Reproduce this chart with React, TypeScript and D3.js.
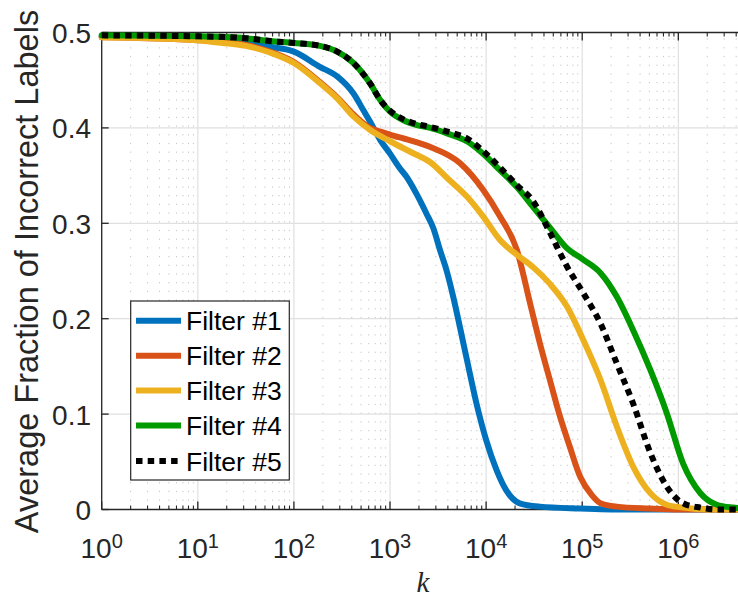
import React from "react";
import * as d3 from "d3";

// ---- data (log10 k positions and average fraction values) ----
const seriesNames = ["Filter #1", "Filter #2", "Filter #3", "Filter #4", "Filter #5"];
const seriesColors = ["#0072BD", "#D95319", "#EDB120", "#009900", "#000000"];

const f1LogK = [0, 1, 1.5, 1.75, 2, 2.27, 2.45, 2.62, 2.72, 2.79, 2.9, 3, 3.1, 3.17, 3.28, 3.38, 3.45, 3.52, 3.59, 3.66, 3.73, 3.8, 3.9, 4, 4.11, 4.21, 4.35, 4.56, 4.98, 5.3, 6.7];
const f1Y = [0.496, 0.494, 0.49, 0.485, 0.48, 0.464, 0.454, 0.436, 0.419, 0.407, 0.387, 0.373, 0.358, 0.349, 0.33, 0.31, 0.295, 0.272, 0.25, 0.222, 0.19, 0.157, 0.111, 0.073, 0.041, 0.02, 0.0065, 0.003, 0.001, 0, 0];

const f2LogK = [0, 1, 1.16, 1.5, 1.75, 2, 2.27, 2.45, 2.62, 2.79, 2.9, 3, 3.1, 3.21, 3.42, 3.73, 3.97, 4.14, 4.32, 4.46, 4.56, 4.66, 4.77, 4.87, 4.98, 5.1, 5.19, 5.36, 5.7, 6, 6.7];
const f2Y = [0.495, 0.492, 0.491, 0.487, 0.48, 0.469, 0.448, 0.432, 0.414, 0.4, 0.396, 0.393, 0.39, 0.387, 0.38, 0.363, 0.335, 0.308, 0.272, 0.215, 0.174, 0.137, 0.097, 0.066, 0.034, 0.015, 0.0065, 0.003, 0.001, 0, 0];

const f3LogK = [0, 1, 1.16, 1.5, 1.75, 2, 2.27, 2.45, 2.62, 2.79, 3, 3.21, 3.42, 3.6, 3.8, 3.97, 4.14, 4.32, 4.49, 4.66, 4.84, 5.01, 5.19, 5.36, 5.53, 5.71, 5.88, 6.05, 6.3, 6.7];
const f3Y = [0.495, 0.492, 0.49, 0.486, 0.479, 0.468, 0.447, 0.431, 0.412, 0.398, 0.386, 0.375, 0.364, 0.347, 0.328, 0.307, 0.283, 0.267, 0.254, 0.237, 0.213, 0.178, 0.136, 0.087, 0.045, 0.017, 0.005, 0.002, 0, 0];

const f4LogK = [0, 1, 1.5, 1.75, 2, 2.27, 2.45, 2.62, 2.79, 2.9, 3, 3.14, 3.28, 3.42, 3.6, 3.8, 4, 4.14, 4.32, 4.49, 4.66, 4.84, 5.01, 5.19, 5.36, 5.53, 5.71, 5.88, 6.05, 6.23, 6.4, 6.57, 6.7];
const f4Y = [0.497, 0.496, 0.494, 0.491, 0.489, 0.486, 0.48, 0.468, 0.447, 0.429, 0.417, 0.408, 0.403, 0.4, 0.394, 0.386, 0.37, 0.356, 0.338, 0.317, 0.296, 0.274, 0.262, 0.248, 0.223, 0.188, 0.146, 0.101, 0.048, 0.017, 0.005, 0.002, 0.001];

const f5LogK = [0, 1, 1.5, 1.75, 2, 2.27, 2.45, 2.62, 2.79, 2.9, 3, 3.14, 3.28, 3.42, 3.6, 3.8, 4, 4.14, 4.32, 4.49, 4.66, 4.84, 5.01, 5.19, 5.36, 5.53, 5.71, 5.88, 6.05, 6.23, 6.4, 6.7];
const f5Y = [0.497, 0.496, 0.494, 0.491, 0.489, 0.486, 0.48, 0.468, 0.447, 0.429, 0.418, 0.409, 0.404, 0.401, 0.396, 0.389, 0.373, 0.359, 0.34, 0.323, 0.291, 0.255, 0.227, 0.195, 0.153, 0.111, 0.059, 0.024, 0.0065, 0.002, 0, 0];

const xTickExps = [0, 1, 2, 3, 4, 5, 6];
const yTicks = [0, 0.1, 0.2, 0.3, 0.4, 0.5];
const yTickLabels = ["0", "0.1", "0.2", "0.3", "0.4", "0.5"];
const xLabel = "k";
const yLabel = "Average Fraction of Incorrect Labels";

const W = 738;
const H = 601;
const AX = "#262626";
const FONT = "'Liberation Sans', Arial, Helvetica, sans-serif";

export default function App() {
  const x = d3.scaleLog().domain([1, 5e6]).range([101.7, 745.5]);
  const y = d3.scaleLinear().domain([0, 0.5]).range([509.5, 32.5]);
  const [x0, x1] = x.range();
  const [yb, yt] = y.range();

  const series = [
    { k: f1LogK, v: f1Y },
    { k: f2LogK, v: f2Y },
    { k: f3LogK, v: f3Y },
    { k: f4LogK, v: f4Y },
    { k: f5LogK, v: f5Y },
  ].map((s, i) => ({
    name: seriesNames[i],
    color: seriesColors[i],
    pts: s.k.map((e, j) => [Math.pow(10, e), s.v[j]] as [number, number]),
  }));

  const line = d3
    .line<[number, number]>()
    .x((d) => x(d[0]))
    .y((d) => y(d[1]))
    .curve(d3.curveMonotoneX);

  const minor: number[] = [];
  for (let dcd = 0; dcd <= 6; dcd++) {
    for (let m = 2; m <= 9; m++) {
      const k = m * Math.pow(10, dcd);
      if (k < 5e6) minor.push(k);
    }
  }
  const major = xTickExps.map((e) => Math.pow(10, e));

  const legX = 130.7, legY = 301, legW = 158.6, legH = 179;
  const legRows = [320.7, 355.7, 390.5, 425.5, 461];

  return (
    <svg width={W} height={H} style={{ position: "absolute", left: 0, top: 0, background: "#fff" }} fontFamily={FONT}>
      <rect x={0} y={0} width={W} height={H} fill="#fff" />
      {/* minor x grid */}
      {minor.map((k) => (
        <line key={"mg" + k} x1={x(k)} x2={x(k)} y1={yb} y2={yt} stroke="#c4c4c4" strokeWidth={1} strokeDasharray="1.2,7.5" />
      ))}
      {/* major grid */}
      {major.map((k) => (
        <line key={"gx" + k} x1={x(k)} x2={x(k)} y1={yb} y2={yt} stroke="#e0e0e0" strokeWidth={1.2} />
      ))}
      {yTicks.map((t) => (
        <line key={"gy" + t} x1={x0} x2={x1} y1={y(t)} y2={y(t)} stroke="#e0e0e0" strokeWidth={1.2} />
      ))}
      {/* axes box */}
      <line x1={x0} x2={x1} y1={yb} y2={yb} stroke={AX} strokeWidth={1.3} />
      <line x1={x0} x2={x1} y1={yt} y2={yt} stroke={AX} strokeWidth={1.3} />
      <line x1={x0} x2={x0} y1={yt} y2={yb} stroke={AX} strokeWidth={1.3} />
      {/* x ticks */}
      {major.map((k) => (
        <g key={"tx" + k}>
          <line x1={x(k)} x2={x(k)} y1={yb} y2={yb - 8} stroke={AX} strokeWidth={1.3} />
          <line x1={x(k)} x2={x(k)} y1={yt} y2={yt + 8} stroke={AX} strokeWidth={1.3} />
        </g>
      ))}
      {minor.map((k) => (
        <g key={"mt" + k}>
          <line x1={x(k)} x2={x(k)} y1={yb} y2={yb - 4} stroke={AX} strokeWidth={1.1} />
          <line x1={x(k)} x2={x(k)} y1={yt} y2={yt + 4} stroke={AX} strokeWidth={1.1} />
        </g>
      ))}
      {/* y ticks */}
      {yTicks.map((t) => (
        <line key={"ty" + t} x1={x0} x2={x0 + 7} y1={y(t)} y2={y(t)} stroke={AX} strokeWidth={1.3} />
      ))}
      {/* series */}
      {series.map((s, i) => (
        <path
          key={s.name}
          d={line(s.pts) || ""}
          fill="none"
          stroke={s.color}
          strokeWidth={6}
          strokeLinejoin="round"
          strokeLinecap={i === 4 ? "butt" : "round"}
          strokeDasharray={i === 4 ? "6.5,5.2" : undefined}
        />
      ))}
      {/* y tick labels */}
      {yTicks.map((t, i) => (
        <text key={"yl" + t} x={91} y={y(t) + 1} textAnchor="end" dominantBaseline="central" fontSize={28} fill={AX}>
          {yTickLabels[i]}
        </text>
      ))}
      {/* x tick labels */}
      {xTickExps.map((e) => (
        <text key={"xl" + e} x={x(Math.pow(10, e))} y={558.3} textAnchor="middle" fontSize={28} fill={AX}>
          <tspan>10</tspan>
          <tspan dy={-10} fontSize={20}>{String(e)}</tspan>
        </text>
      ))}
      {/* axis labels */}
      <text x={(x0 + 738) / 2 + 3} y={592} textAnchor="middle" fontSize={29} fontStyle="italic" fontFamily="'Liberation Serif', 'DejaVu Serif', serif" fill={AX}>
        {xLabel}
      </text>
      <text transform={`translate(38.3, 271.5) rotate(-90)`} textAnchor="middle" fontSize={32.5} fill={AX}>
        {yLabel}
      </text>
      {/* legend */}
      <rect x={legX} y={legY} width={legW} height={legH} fill="#fff" stroke={AX} strokeWidth={1.2} />
      {series.map((s, i) => (
        <g key={"lg" + i}>
          <line
            x1={136}
            x2={181}
            y1={legRows[i]}
            y2={legRows[i]}
            stroke={s.color}
            strokeWidth={6}
            strokeDasharray={i === 4 ? "6.5,5.2" : undefined}
          />
          <text x={186} y={legRows[i] + 9.5} fontSize={26.5} fill="#000">
            {s.name}
          </text>
        </g>
      ))}
    </svg>
  );
}
